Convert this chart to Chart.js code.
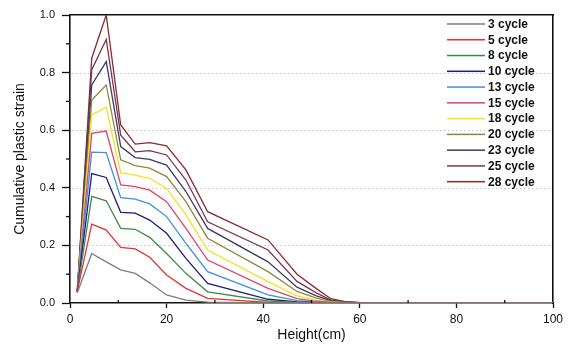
<!DOCTYPE html>
<html>
<head>
<meta charset="utf-8">
<script src="https://cdn.jsdelivr.net/npm/chart.js@4/dist/chart.umd.min.js"></script>
<style>
  html, body { margin: 0; padding: 0; background: #fff; }
  #strainChart { display: block; }
</style>
</head>
<body>
<canvas id="strainChart" width="574" height="347"></canvas>
<script>
/* ------------------------------------------------------------
   Measurement data: cumulative plastic strain vs. height
------------------------------------------------------------ */
const heights = [1.5, 4.5, 7.5, 10.5, 13.5, 16.5, 20, 24, 28.5, 41, 47, 51, 54, 57, 61, 100];

const cycleLabels = ["3 cycle", "5 cycle", "8 cycle", "10 cycle", "13 cycle", "15 cycle",
  "18 cycle", "20 cycle", "23 cycle", "25 cycle", "28 cycle"];

const cycle3  = [0.035, 0.172, 0.143, 0.115, 0.103, 0.070, 0.028, 0.010, 0.003, 0, 0, 0, 0, 0, 0, 0];
const cycle5  = [0.040, 0.274, 0.253, 0.193, 0.188, 0.159, 0.097, 0.051, 0.016, 0.002, 0, 0, 0, 0, 0, 0];
const cycle8  = [0.040, 0.370, 0.355, 0.259, 0.256, 0.228, 0.172, 0.103, 0.039, 0.007, 0.002, 0, 0, 0, 0, 0];
const cycle10 = [0.040, 0.449, 0.436, 0.315, 0.312, 0.288, 0.242, 0.155, 0.068, 0.013, 0.004, 0.001, 0, 0, 0, 0];
const cycle13 = [0.040, 0.524, 0.522, 0.366, 0.361, 0.344, 0.300, 0.207, 0.109, 0.028, 0.008, 0.003, 0.001, 0, 0, 0];
const cycle15 = [0.040, 0.589, 0.597, 0.410, 0.404, 0.392, 0.352, 0.259, 0.149, 0.051, 0.015, 0.006, 0.002, 0.001, 0, 0];
const cycle18 = [0.040, 0.653, 0.680, 0.452, 0.444, 0.433, 0.398, 0.306, 0.184, 0.074, 0.025, 0.010, 0.003, 0.001, 0, 0];
const cycle20 = [0.040, 0.705, 0.757, 0.497, 0.477, 0.468, 0.439, 0.352, 0.225, 0.109, 0.040, 0.017, 0.005, 0.002, 0, 0];
const cycle23 = [0.040, 0.757, 0.838, 0.543, 0.505, 0.499, 0.479, 0.387, 0.259, 0.143, 0.055, 0.025, 0.008, 0.003, 0, 0];
const cycle25 = [0.040, 0.810, 0.915, 0.583, 0.525, 0.529, 0.514, 0.427, 0.282, 0.184, 0.075, 0.035, 0.010, 0.004, 0, 0];
const cycle28 = [0.040, 0.850, 1.000, 0.618, 0.552, 0.557, 0.546, 0.462, 0.317, 0.219, 0.100, 0.050, 0.015, 0.005, 0, 0];

const yTicks = [0, 0.2, 0.4, 0.6, 0.8, 1.0];
const xTicks = [0, 20, 40, 60, 80, 100];

const seriesValues = [cycle3, cycle5, cycle8, cycle10, cycle13, cycle15,
  cycle18, cycle20, cycle23, cycle25, cycle28];

const lineColors = ["#7d7d7d", "#e8322f", "#3d8a4c", "#1b1f78", "#3f90e4", "#e0436b",
  "#f2e31f", "#8c8a3c", "#3b3b66", "#7a3552", "#8c2a2c"];

const FONT = "'Liberation Sans', Arial, sans-serif";
const INK = "#111111";

// border-only axes for the top and right edges of the box
const edgeAxis = (axis, position, min, max) => ({
  type: "linear",
  axis,
  position,
  min,
  max,
  ticks: { display: false },
  grid: { display: false, drawTicks: false },
  border: { display: true, color: INK, width: 1.6 },
  afterFit: (scale) => {
    if (axis === "x") scale.height = 0;
    else scale.width = 0;
  },
});

new Chart(document.getElementById("strainChart"), {
  type: "line",
  data: {
    datasets: seriesValues.map((vals, i) => ({
      label: cycleLabels[i],
      data: vals.map((v, j) => ({ x: heights[j], y: v })),
      borderColor: lineColors[i],
      borderWidth: 1.3,
      pointRadius: 0,
      tension: 0,
      fill: false,
      xAxisID: "x",
      yAxisID: "y",
    })),
  },
  options: {
    responsive: false,
    animation: false,
    layout: { padding: { top: 15, right: 21, left: 0, bottom: 0 } },
    plugins: { legend: { display: false }, tooltip: { enabled: false } },
    scales: {
      x: {
        type: "linear",
        position: "bottom",
        min: 0,
        max: 100,
        afterFit: (scale) => { scale.height = 44; },
        afterBuildTicks: (scale) => { scale.ticks = xTicks.map((v) => ({ value: v })); },
        grid: { display: true, drawOnChartArea: false, tickLength: 5, tickColor: INK, tickWidth: 1.3 },
        border: { display: true, color: INK, width: 1.6 },
        ticks: { padding: 4, color: INK, font: { family: FONT, size: 12 } },
        title: {
          display: true,
          text: "Height(cm)",
          color: INK,
          font: { family: FONT, size: 14 },
          padding: { top: 0, bottom: 3.6 },
        },
      },
      y: {
        position: "left",
        min: 0,
        max: 1,
        afterFit: (scale) => { scale.width = 70; },
        afterBuildTicks: (scale) => { scale.ticks = yTicks.map((v) => ({ value: v })); },
        grid: { display: true, drawOnChartArea: false, tickLength: 8, tickColor: INK, tickWidth: 1.3 },
        border: { display: true, color: INK, width: 1.6 },
        ticks: {
          padding: 7,
          color: INK,
          font: { family: FONT, size: 11 },
          callback: (v) => Number(v).toFixed(1),
        },
        title: {
          display: true,
          text: "Cumulative plastic strain",
          color: INK,
          font: { family: FONT, size: 14 },
          padding: { top: 11.6, bottom: 0 },
        },
      },
      xTop: edgeAxis("x", "top", 0, 100),
      yRight: edgeAxis("y", "right", 0, 1),
    },
  },
  plugins: [{
    id: "strainFrame",
    // faint dotted grid behind the curves
    beforeDatasetsDraw(chart) {
      const { ctx, chartArea: a, scales } = chart;
      ctx.save();
      ctx.fillStyle = "#c4c4c4";
      yTicks.slice(1, -1).forEach((v) => {
        const y = Math.round(scales.y.getPixelForValue(v));
        for (let x = a.left + 2; x < a.right - 1; x += 4) ctx.fillRect(x, y, 1.5, 1);
      });
      ctx.restore();
    },
    // minor ticks and the legend
    afterDraw(chart) {
      const { ctx, chartArea: a, scales } = chart;
      ctx.save();
      ctx.fillStyle = INK;
      for (let i = 1; i < 10; i += 2) {
        const y = scales.y.getPixelForValue(i / 10);
        ctx.fillRect(a.left - 4, y - 0.65, 4, 1.3);
      }
      for (let v = 10; v < 100; v += 20) {
        const x = scales.x.getPixelForValue(v);
        ctx.fillRect(x - 0.65, a.bottom - 3, 1.3, 3);
      }

      ctx.font = "bold 12px " + FONT;
      ctx.textAlign = "left";
      ctx.textBaseline = "middle";
      chart.data.datasets.forEach((ds, i) => {
        const y = 24 + i * 15.77;
        ctx.fillStyle = ds.borderColor;
        ctx.fillRect(447, y - 0.75, 38, 1.5);
        ctx.fillStyle = INK;
        ctx.fillText(ds.label, 488, y + 0.5);
      });
      ctx.restore();
    },
  }],
});
</script>
</body>
</html>
